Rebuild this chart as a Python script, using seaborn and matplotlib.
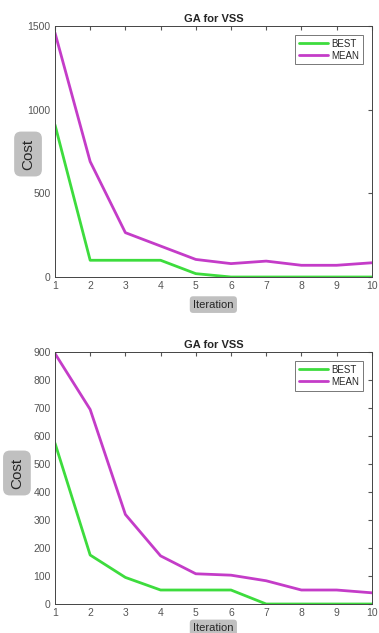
import pandas as pd
import seaborn as sns
import matplotlib.pyplot as plt

# iteration numbers shared by both runs
iterations = [1, 2, 3, 4, 5, 6, 7, 8, 9, 10]

# run 1 (top panel)
best_1 = [910, 100, 100, 100, 20, 0, 0, 0, 0, 0]
mean_1 = [1460, 690, 265, 185, 105, 80, 95, 70, 70, 85]

# run 2 (bottom panel)
best_2 = [575, 175, 95, 50, 50, 50, 0, 0, 0, 0]
mean_2 = [895, 695, 320, 172, 108, 103, 83, 50, 50, 40]

y_ticks_1 = [0, 500, 1000, 1500]
y_ticks_2 = [0, 100, 200, 300, 400, 500, 600, 700, 800, 900]

sns.set_style('white')
plt.rcParams['font.family'] = ['Liberation Sans', 'DejaVu Sans']

palette = {'BEST': '#3ddc3d', 'MEAN': '#c43cc8'}
ybox = dict(boxstyle='round,pad=0.45', fc='#c0c0c0', ec='none')
xbox = dict(boxstyle='round,pad=0.3', fc='#c0c0c0', ec='none')

fig = plt.figure(figsize=(3.79, 6.33), dpi=100)
ax1 = fig.add_axes([0.145, 0.5624, 0.836, 0.3965])
ax2 = fig.add_axes([0.145, 0.0458, 0.836, 0.398])


def draw(ax, best, mean, ymax, yticks, ylab_xy, xlab_y):
    df = pd.DataFrame({'Iteration': iterations * 2,
                       'Cost': best + mean,
                       'series': ['BEST'] * len(best) + ['MEAN'] * len(mean)})
    sns.lineplot(data=df, x='Iteration', y='Cost', hue='series', palette=palette,
                 linewidth=2, ax=ax)
    ax.set_xlim(1, 10)
    ax.set_ylim(0, ymax)
    ax.set_xticks(iterations)
    ax.set_yticks(yticks)
    ax.tick_params(direction='in', length=3, top=True, right=True,
                   labelsize=7.5, colors='#555555', labelcolor='#555555', pad=3)
    for s in ax.spines.values():
        s.set_color('#444444')
        s.set_linewidth(0.7)
    ax.set_title('GA for VSS', fontsize=8, fontweight='bold', pad=3)
    ax.set_ylabel('Cost', fontsize=11, bbox=ybox, va='center')
    ax.yaxis.set_label_coords(*ylab_xy)
    ax.set_xlabel('Iteration', fontsize=8, bbox=xbox, va='center')
    ax.xaxis.set_label_coords(0.5, xlab_y)
    leg = ax.legend(loc='upper right', fontsize=7, frameon=True, fancybox=False,
                    handlelength=3, handletextpad=0.3, borderpad=0.4,
                    labelspacing=0.2, borderaxespad=0.9)
    leg.get_frame().set_edgecolor('#555555')
    leg.get_frame().set_linewidth(0.7)


draw(ax1, best_1, mean_1, 1500, y_ticks_1, (-0.085, 0.49), -0.11)
draw(ax2, best_2, mean_2, 900, y_ticks_2, (-0.12, 0.52), -0.095)

fig.savefig('out.png', dpi=100)
